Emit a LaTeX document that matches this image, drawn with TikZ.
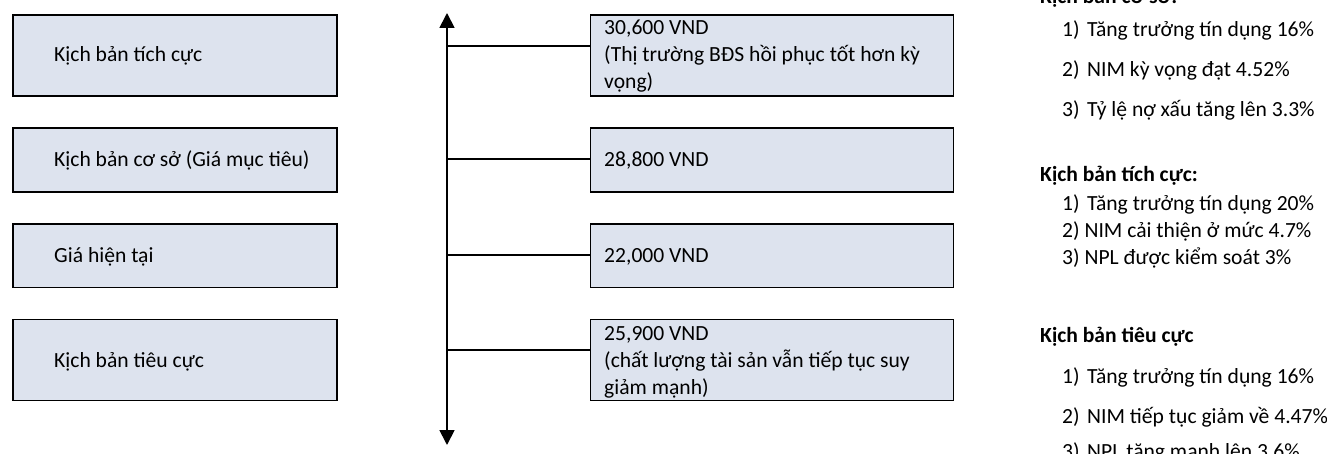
\documentclass[tikz,border=0pt]{standalone}
\usepackage{fontspec}
\setmainfont{Carlito}
\usetikzlibrary{arrows.meta}
\definecolor{boxfill}{HTML}{DDE3EE}
\newcommand\numtab[1]{\makebox[25pt][l]{#1}}
\begin{document}
\begin{tikzpicture}[x=1pt,y=-1pt,
  box/.style={draw=black, line width=1.8pt, fill=boxfill, anchor=north west, inner sep=0pt},
  txt/.style={anchor=base west, inner sep=0pt, font=\fontsize{21.6}{27}\selectfont, align=left},
  head/.style={anchor=base west, inner sep=0pt, font=\fontsize{21.6}{27}\selectfont\bfseries},
  conn/.style={line width=1.8pt},
  axis/.style={line width=1.8pt, {Triangle[width=15pt,length=15pt]}-{Triangle[width=15pt,length=15pt]}}]
\useasboundingbox (0,0) rectangle (1327,454);
\clip (0,0) rectangle (1327,454);
% left boxes
\node[box, minimum width=324pt, minimum height=81pt] (lb1) at (11.7,14.5) {};
\node[box, minimum width=324pt, minimum height=64pt] (lb2) at (11.7,127.5) {};
\node[box, minimum width=324pt, minimum height=63pt] (lb3) at (11.7,223.5) {};
\node[box, minimum width=324pt, minimum height=81pt] (lb4) at (11.7,318.5) {};
\node[txt] (lt1) at (54,62) {Kịch bản tích cực};
\node[txt] (lt2) at (54,167) {Kịch bản cơ sở (Giá mục tiêu)};
\node[txt] (lt3) at (54,262) {Giá hiện tại};
\node[txt] (lt4) at (54,367) {Kịch bản tiêu cực};
% right boxes
\node[box, minimum width=363pt, minimum height=81pt] (rb1) at (589.5,14.5) {};
\node[box, minimum width=363pt, minimum height=64pt] (rb2) at (589.5,127.5) {};
\node[box, minimum width=363pt, minimum height=63pt] (rb3) at (589.5,223.5) {};
\node[box, minimum width=363pt, minimum height=81pt] (rb4) at (589.5,318.5) {};
\node[txt] (rt1) at (604,89) {30,600 VND\\(Thị trường BĐS hồi phục tốt hơn kỳ\\vọng)};
\node[txt] (rt2) at (604,167) {28,800 VND};
\node[txt] (rt3) at (604,262) {22,000 VND};
\node[txt] (rt4) at (604,394) {25,900 VND\\(chất lượng tài sản vẫn tiếp tục suy\\giảm mạnh)};
% axis
\coordinate (atop) at (447,13);
\coordinate (abot) at (447,445);
\draw[axis] (atop) -- (abot);
\coordinate (a1) at (447,46);
\coordinate (a2) at (447,159);
\coordinate (a3) at (447,255);
\coordinate (a4) at (447,350);
\draw[conn] (a1) -- (rb1.west |- a1);
\draw[conn] (a2) -- (rb2.west |- a2);
\draw[conn] (a3) -- (rb3.west |- a3);
\draw[conn] (a4) -- (rb4.west |- a4);
% right notes
\node[head] (h1) at (1040,4) {Kịch bản cơ sở:};
\node[txt] (i11) at (1062,37) {\numtab{1)}Tăng trưởng tín dụng 16\%};
\node[txt] (i12) at (1062,77) {\numtab{2)}NIM kỳ vọng đạt 4.52\%};
\node[txt] (i13) at (1062,117) {\numtab{3)}Tỷ lệ nợ xấu tăng lên 3.3\%};
\node[head] (h2) at (1040,182) {Kịch bản tích cực:};
\node[txt] (i21) at (1062,211) {\numtab{1)}Tăng trưởng tín dụng 20\%};
\node[txt] (i22) at (1062,238) {2) NIM cải thiện ở mức 4.7\%};
\node[txt] (i23) at (1062,265) {3) NPL được kiểm soát 3\%};
\node[head] (h3) at (1040,342) {Kịch bản tiêu cực};
\node[txt] (i31) at (1062,383) {\numtab{1)}Tăng trưởng tín dụng 16\%};
\node[txt] (i32) at (1062,423) {\numtab{2)}NIM tiếp tục giảm về 4.47\%};
\node[txt] (i33) at (1062,458) {\numtab{3)}NPL tăng mạnh lên 3.6\%};
\end{tikzpicture}
\end{document}
